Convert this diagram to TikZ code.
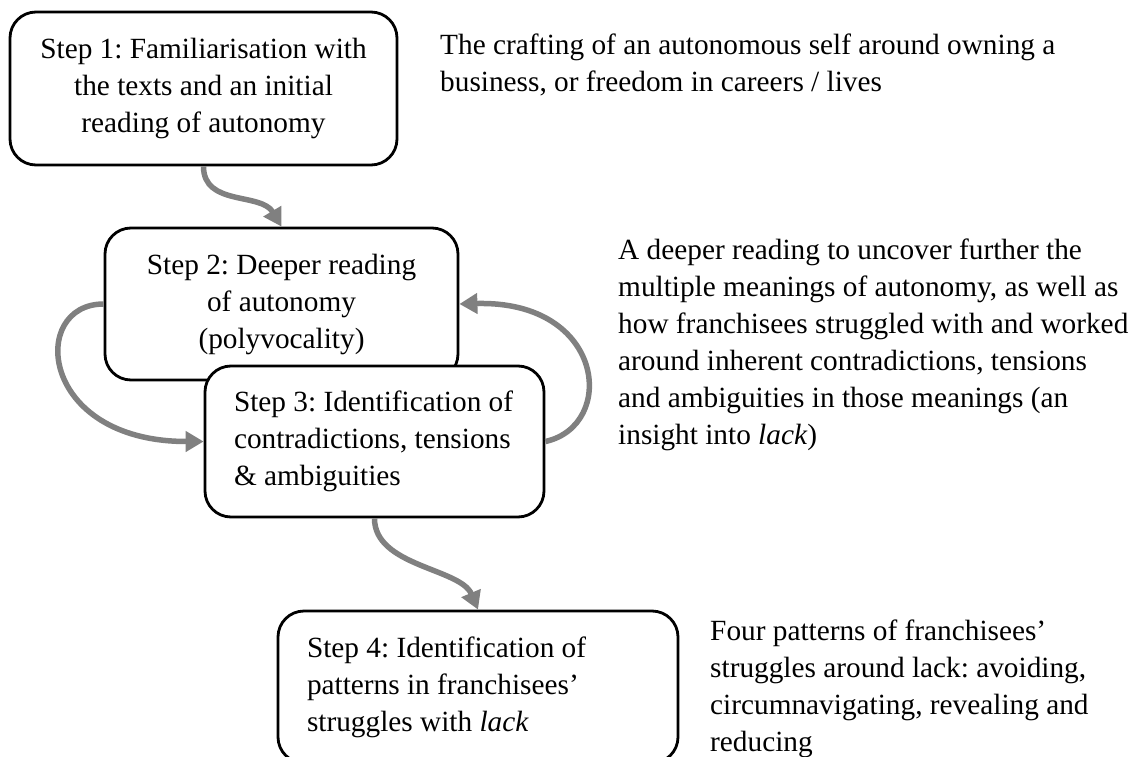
\documentclass[tikz,border=0pt]{standalone}
\usepackage{fontspec}
\setmainfont{Liberation Serif}
\usetikzlibrary{arrows.meta,calc}
\begin{document}
\frenchspacing
\begin{tikzpicture}[x=1pt,y=-1pt,
  txt/.style={font=\fontsize{29.3}{37}\selectfont\frenchspacing},
  stepbox/.style={txt, draw=black, line width=2.8pt, rounded corners=26pt, fill=white, inner ysep=0pt},
  flow/.style={draw=gray, line width=5.5pt, -{Triangle[length=18pt,width=20pt]}},
  note/.style={txt, anchor=base west, inner sep=0pt}]
\useasboundingbox (0,0) rectangle (1132,757);
\clip (0,0) rectangle (1132,757);

\node[stepbox, align=center, minimum width=387pt, minimum height=153pt] (s1) at (203.5,88.5)
  {Step 1: Familiarisation with\\the texts and an initial\\reading of autonomy};
\node[stepbox, align=center, minimum width=353pt, minimum height=152pt] (s2) at (281.5,304)
  {Step 2: Deeper reading\\of autonomy\\(polyvocality)};
\node[stepbox, inner xsep=29pt, minimum height=151pt] (s3) at (374.5,441.5)
  {\makebox[281pt][l]{\begin{tabular}{@{}l@{}}Step 3: Identification of\\contradictions, tensions\\\& ambiguities\end{tabular}}};
\node[stepbox, inner xsep=29pt, minimum height=152pt] (s4) at (478,687)
  {\makebox[342pt][l]{\begin{tabular}{@{}l@{}}Step 4: Identification of\\patterns in franchisees’\\struggles with \textit{lack}\end{tabular}}};

\draw[flow] (s1.south) .. controls ($(s1.south)+(0,40)$) and ($(s2.north)+(-20.5,-34.4)$) .. (s2.north);
\draw[flow] (s3.south) .. controls ($(s3.south)+(0,48)$) and ($(s4.north)+(-17.5,-41.4)$) .. (s4.north);
\draw[flow] (s2.west) .. controls ($(s2.west)+(-75,0)$) and ($(s3.west)+(-165,0)$) .. (s3.west);
\draw[flow] (s3.east) .. controls ($(s3.east)+(72,-16)$) and ($(s2.east)+(146,-4)$) .. (s2.east);

\node[note] (t1) at (440,55) {\begin{tabular}[t]{@{}l@{}}The crafting of an autonomous self around owning a\\business, or freedom in careers / lives\end{tabular}};
\node[note] (t2) at (618,259) {\begin{tabular}[t]{@{}l@{}}A deeper reading to uncover further the\\multiple meanings of autonomy, as well as\\how franchisees struggled with and worked\\around inherent contradictions, tensions\\and ambiguities in those meanings (an\\insight into \textit{lack})\end{tabular}};
\node[note] (t3) at (710,640) {\begin{tabular}[t]{@{}l@{}}Four patterns of franchisees’\\struggles around lack: avoiding,\\circumnavigating, revealing and\\reducing\end{tabular}};
\end{tikzpicture}
\end{document}
